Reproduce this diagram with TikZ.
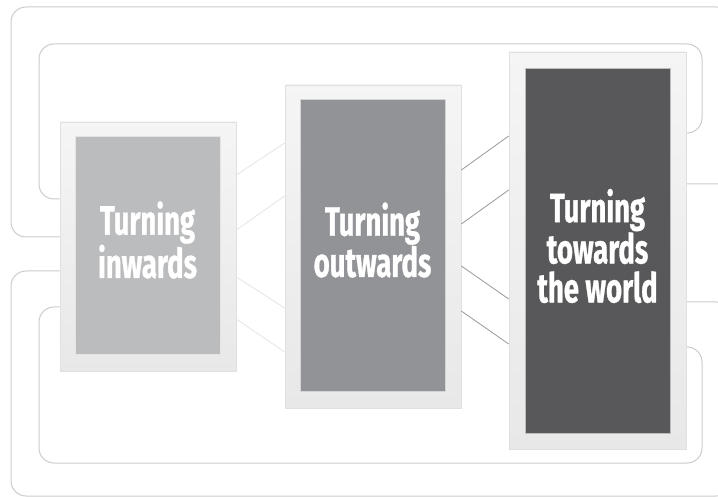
\documentclass[tikz,border=0pt]{standalone}
\usepackage{fontspec}
\newfontfamily\cndfont[FakeStretch=0.67,BoldFeatures={FakeBold=0.8}]{Fira Sans}
\begin{document}
\begin{tikzpicture}[x=1pt,y=-1pt,
  loopline/.style={draw=black!20,line width=1pt,rounded corners=15pt},
  frame/.style={draw=black!12,line width=0.6pt,top color=black!4,bottom color=black!9,inner sep=0,rectangle},
  panel/.style={inner sep=0,rectangle,draw=white!60!#1,line width=0.5pt,fill=#1},
  label/.style={text=white,align=center,inner sep=0,font=\cndfont\bfseries\fontsize{41}{39}\selectfont},
  lightlink/.style={draw=black!10,line width=0.8pt},
  darklink/.style={draw=black!40,line width=0.8pt}]
\definecolor{pA}{HTML}{BBBCBE}
\definecolor{pB}{HTML}{929396}
\definecolor{pC}{HTML}{58585A}
\useasboundingbox[fill=white] (0,0) rectangle (718,497);
% box frames (named, for connector anchors)
\path (148,246.5) node[frame,minimum width=176pt,minimum height=249pt] (b1) {};
\path (373,246.5) node[frame,minimum width=176pt,minimum height=323pt] (b2) {};
\path (597.5,250.5) node[frame,minimum width=177pt,minimum height=397pt] (b3) {};
% loops
\draw[loopline] (b1.west |- 0,237) -- (11,237) -- (11,7) -- (731,7) -- (731,184) -- (b3.east |- 0,184);
\draw[loopline] (b1.west |- 0,199) -- (39,199) -- (39,44) -- (702,44) -- (702,133) -- (b3.east |- 0,133);
\draw[loopline] (b1.west |- 0,271) -- (11,271) -- (11,496) -- (731,496) -- (731,302) -- (b3.east |- 0,302);
\draw[loopline] (b1.west |- 0,307) -- (39,307) -- (39,463) -- (702,463) -- (702,347) -- (b3.east |- 0,347);
% redraw frames above loops
\path (148,246.5) node[frame,minimum width=176pt,minimum height=249pt] {};
\path (373,246.5) node[frame,minimum width=176pt,minimum height=323pt] {};
\path (597.5,250.5) node[frame,minimum width=177pt,minimum height=397pt] {};
\node[panel=pA,minimum width=145pt,minimum height=218pt] (p1) at (147.5,245) {};
\node[panel=pB,minimum width=145pt,minimum height=292pt] (p2) at (372.5,245) {};
\node[panel=pC,minimum width=145pt,minimum height=365pt] (p3) at (597.5,250.5) {};
\node[label] (t1) at (147.5,240) {Turning\\inwards};
\node[label] (t2) at (372.5,240) {Turning\\outwards};
\node[label] (t3) at (597.5,246) {Turning\\towards\\the world};
% links
\draw[lightlink] (b1.east |- 0,175) -- (b2.west |- 0,143);
\draw[lightlink] (b1.east |- 0,230) -- (b2.west |- 0,196);
\draw[lightlink] (b1.east |- 0,277) -- (b2.west |- 0,308);
\draw[lightlink] (b1.east |- 0,319) -- (b2.west |- 0,352);
\draw[darklink] (b2.east |- 0,170) -- (b3.west |- 0,136);
\draw[darklink] (b2.east |- 0,224) -- (b3.west |- 0,190);
\draw[darklink] (b2.east |- 0,266) -- (b3.west |- 0,299);
\draw[darklink] (b2.east |- 0,311) -- (b3.west |- 0,344);
\end{tikzpicture}
\end{document}
